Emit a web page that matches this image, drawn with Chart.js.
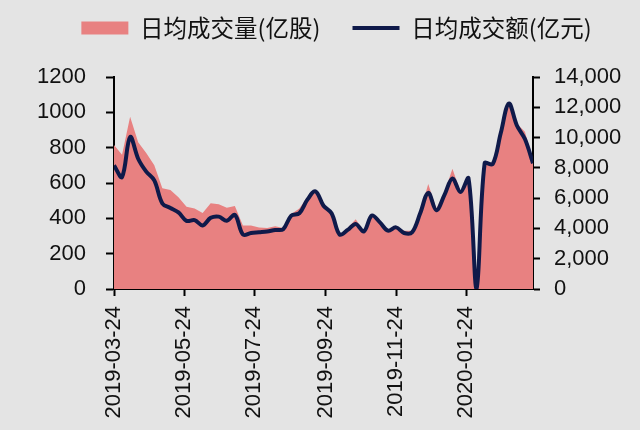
<!DOCTYPE html>
<html>
<head>
<meta charset="utf-8">
<script src="https://cdn.jsdelivr.net/npm/chart.js@4.4.1/dist/chart.umd.min.js"></script>
<style>
  html, body { margin: 0; padding: 0; background: #e4e4e4; }
  #wrap { width: 640px; height: 430px; }
</style>
</head>
<body>
<div id="wrap"><canvas id="c" width="640" height="430"></canvas></div>
<script>
// Weekly dates
const weekDates = [
  '2019-03-24','2019-03-31','2019-04-07','2019-04-14','2019-04-21','2019-04-28',
  '2019-05-05','2019-05-12','2019-05-19','2019-05-26','2019-06-02','2019-06-09',
  '2019-06-16','2019-06-23','2019-06-30','2019-07-07','2019-07-14','2019-07-21',
  '2019-07-28','2019-08-04','2019-08-11','2019-08-18','2019-08-25','2019-09-01',
  '2019-09-08','2019-09-15','2019-09-22','2019-09-29','2019-10-06','2019-10-13',
  '2019-10-20','2019-10-27','2019-11-03','2019-11-10','2019-11-17','2019-11-24',
  '2019-12-01','2019-12-08','2019-12-15','2019-12-22','2019-12-29','2020-01-05',
  '2020-01-12','2020-01-19','2020-01-26','2020-02-02','2020-02-09','2020-02-16',
  '2020-02-23','2020-03-01','2020-03-08','2020-03-15','2020-03-22'
];
// 日均成交量(亿股) - left axis
const volume = [
  815, 760, 975, 830, 770, 700, 570, 560, 520, 465, 455, 430,
  485, 480, 460, 470, 360, 360, 348, 345, 355, 345, 425, 455,
  520, 560, 475, 430, 305, 345, 395, 325, 420, 385, 335, 355,
  330, 330, 435, 595, 455, 545, 680, 550, 625, 0, 710, 710,
  880, 1060, 935, 890, 730
];
// 日均成交额(亿元) - right axis
const turnover = [
  8160, 7400, 10040, 8600, 7750, 7170, 5650, 5350, 5060, 4500, 4550, 4200,
  4700, 4780, 4500, 4900, 3600, 3700, 3750, 3800, 3900, 3950, 4850, 5000,
  5900, 6450, 5500, 5000, 3600, 3900, 4300, 3800, 4850, 4400, 3850, 4070,
  3700, 3750, 5000, 6350, 5200, 6200, 7300, 6400, 7300, 0, 8300, 8250,
  10300, 12250, 10800, 9900, 8300
];
const xTickLabels = ['2019-03-24','2019-05-24','2019-07-24','2019-09-24','2019-11-24','2020-01-24'];
const seriesNames = ['日均成交量(亿股)', '日均成交额(亿元)'];
const startDate = '2019-03-24';
const endDate = '2020-03-22';

const DAY = 86400000;
const dayOf = s => Math.round((Date.parse(s) - Date.parse(startDate)) / DAY);
const xTickDays = xTickLabels.map(dayOf);

const tickFont = { family: '"Liberation Sans", Arial, sans-serif', size: 22 };
const PAD_LEFT = 33;

new Chart(document.getElementById('c'), {
  type: 'line',
  data: {
    datasets: [
      {
        label: seriesNames[0],
        data: weekDates.map((d, i) => ({ x: dayOf(d), y: volume[i] })),
        yAxisID: 'y',
        backgroundColor: '#e88181',
        borderColor: '#e88181',
        borderWidth: 0,
        fill: 'origin',
        tension: 0,
        pointRadius: 0,
        pointStyle: 'rect',
        order: 2
      },
      {
        label: seriesNames[1],
        data: weekDates.map((d, i) => ({ x: dayOf(d), y: turnover[i] })),
        yAxisID: 'y1',
        borderColor: '#0f1a4a',
        backgroundColor: '#0f1a4a',
        borderWidth: 4,
        fill: false,
        tension: 0.35,
        pointRadius: 0,
        pointStyle: 'line',
        order: 1
      }
    ]
  },
  options: {
    responsive: false,
    animation: false,
    layout: { padding: { top: -15.75, left: PAD_LEFT, right: 0, bottom: 0 } },
    plugins: {
      tooltip: { enabled: false },
      legend: {
        display: true,
        position: 'top',
        weight: 3000,
        labels: {
          usePointStyle: true,
          pointStyleWidth: 47,
          boxHeight: 13,
          padding: 32,
          color: '#111',
          font: { family: '"Noto Sans CJK SC", sans-serif', size: 23.5, lineHeight: 1 },
          sort: (a, b) => a.datasetIndex - b.datasetIndex
        }
      },
      title: {
        display: true,
        text: ' ',
        weight: 2000,
        font: { size: 10, lineHeight: 1.2 },
        padding: { top: 0, bottom: 15.25 }
      }
    },
    scales: {
      x: {
        type: 'linear',
        min: 0,
        max: dayOf(endDate),
        afterBuildTicks: scale => { scale.ticks = xTickDays.map(v => ({ value: v })); },
        afterFit: scale => { scale.height = 141; },
        ticks: {
          autoSkip: false,
          maxRotation: 90,
          minRotation: 90,
          padding: 10,
          color: '#111',
          font: tickFont,
          callback: (v, i) => xTickLabels[i]
        },
        grid: { display: true, drawOnChartArea: false, drawTicks: true, tickLength: 7, tickWidth: 2, tickColor: '#000' },
        border: { display: true, color: '#000', width: 2 }
      },
      y: {
        position: 'left',
        min: 0,
        max: 1200,
        afterFit: scale => { scale.width = 114 - PAD_LEFT; },
        ticks: { stepSize: 200, padding: 20, color: '#111', font: tickFont, callback: v => String(v) },
        grid: { display: true, drawOnChartArea: false, drawTicks: true, tickLength: 8, tickWidth: 2, tickColor: '#000' },
        border: { display: true, color: '#000', width: 2 }
      },
      y1: {
        position: 'right',
        min: 0,
        max: 14000,
        afterFit: scale => { scale.width = 107; },
        ticks: {
          stepSize: 2000,
          padding: 14,
          color: '#111',
          font: tickFont,
          callback: v => v.toLocaleString('en-US')
        },
        grid: { display: true, drawOnChartArea: false, drawTicks: true, tickLength: 7, tickWidth: 2, tickColor: '#000' },
        border: { display: true, color: '#000', width: 2 }
      }
    }
  }
});
</script>
</body>
</html>
